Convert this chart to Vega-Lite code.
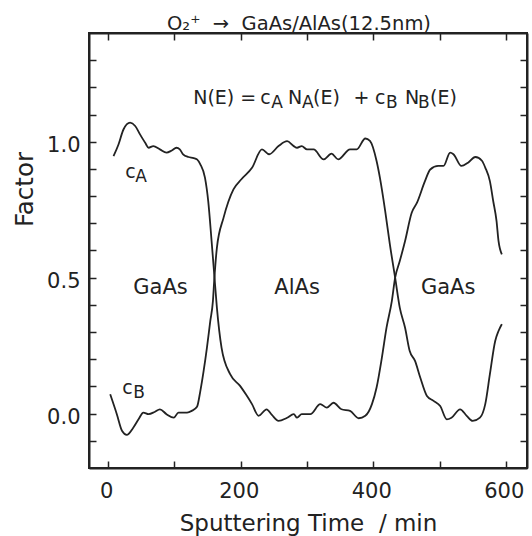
{
  "$schema": "https://vega.github.io/schema/vega-lite/v6.json",
  "width": 438,
  "height": 435,
  "autosize": "none",
  "padding": {"left": 89, "top": 33, "right": 5, "bottom": 68},
  "background": "white",
  "title": {"text": "O₂⁺\u00a0\u00a0→\u00a0\u00a0GaAs/AlAs(12.5nm)", "fontSize": 19.5, "font": "DejaVu Sans", "fontWeight": "normal", "color": "#222", "offset": 1, "dx": -9, "dy": 3},
  "config": {
    "view": {"stroke": "#222", "strokeWidth": 2},
    "axis": {"domainColor": "#222", "domainWidth": 2, "tickColor": "#222", "tickWidth": 1.5, "labelColor": "#222", "titleColor": "#222", "labelFont": "DejaVu Sans", "titleFont": "DejaVu Sans", "labelFontSize": 21, "titleFontSize": 23, "titleFontWeight": "normal", "grid": false},
    "text": {"font": "DejaVu Sans", "color": "#222"}
  },
  "datasets": {
    "curves": [
      {"series": "cA", "t": 8, "f": 0.947}, {"series": "cA", "t": 15.5, "f": 0.99}, {"series": "cA", "t": 23, "f": 1.045}, {"series": "cA", "t": 33, "f": 1.07}, {"series": "cA", "t": 40.7, "f": 1.058}, {"series": "cA", "t": 48, "f": 1.027}, {"series": "cA", "t": 55.8, "f": 0.996}, {"series": "cA", "t": 61, "f": 0.978}, {"series": "cA", "t": 68, "f": 0.984}, {"series": "cA", "t": 78, "f": 0.972}, {"series": "cA", "t": 88, "f": 0.96}, {"series": "cA", "t": 96, "f": 0.968}, {"series": "cA", "t": 103, "f": 0.978}, {"series": "cA", "t": 108, "f": 0.972}, {"series": "cA", "t": 113, "f": 0.954}, {"series": "cA", "t": 121, "f": 0.944}, {"series": "cA", "t": 129, "f": 0.94}, {"series": "cA", "t": 134, "f": 0.935}, {"series": "cA", "t": 139, "f": 0.917}, {"series": "cA", "t": 146, "f": 0.868}, {"series": "cA", "t": 151, "f": 0.78}, {"series": "cA", "t": 156, "f": 0.635}, {"series": "cA", "t": 160, "f": 0.513}, {"series": "cA", "t": 164, "f": 0.39}, {"series": "cA", "t": 171, "f": 0.243}, {"series": "cA", "t": 184, "f": 0.145}, {"series": "cA", "t": 199, "f": 0.102}, {"series": "cA", "t": 208, "f": 0.07}, {"series": "cA", "t": 217, "f": 0.035}, {"series": "cA", "t": 227, "f": -0.008}, {"series": "cA", "t": 239, "f": 0.016}, {"series": "cA", "t": 247, "f": -0.005}, {"series": "cA", "t": 257, "f": -0.027}, {"series": "cA", "t": 270, "f": -0.015}, {"series": "cA", "t": 280, "f": -0.002}, {"series": "cA", "t": 285, "f": -0.015}, {"series": "cA", "t": 292, "f": -0.002}, {"series": "cA", "t": 305, "f": -0.002}, {"series": "cA", "t": 320, "f": 0.035}, {"series": "cA", "t": 330, "f": 0.022}, {"series": "cA", "t": 340, "f": 0.04}, {"series": "cA", "t": 352, "f": 0.016}, {"series": "cA", "t": 365, "f": 0.01}, {"series": "cA", "t": 378, "f": -0.017}, {"series": "cA", "t": 388, "f": -0.008}, {"series": "cA", "t": 398, "f": 0.035}, {"series": "cA", "t": 405, "f": 0.096}, {"series": "cA", "t": 413, "f": 0.206}, {"series": "cA", "t": 420, "f": 0.316}, {"series": "cA", "t": 428, "f": 0.414}, {"series": "cA", "t": 433, "f": 0.5}, {"series": "cA", "t": 440, "f": 0.561}, {"series": "cA", "t": 448, "f": 0.635}, {"series": "cA", "t": 458, "f": 0.739}, {"series": "cA", "t": 466, "f": 0.776}, {"series": "cA", "t": 478, "f": 0.855}, {"series": "cA", "t": 486, "f": 0.898}, {"series": "cA", "t": 498, "f": 0.911}, {"series": "cA", "t": 506, "f": 0.911}, {"series": "cA", "t": 516, "f": 0.96}, {"series": "cA", "t": 521, "f": 0.954}, {"series": "cA", "t": 533, "f": 0.911}, {"series": "cA", "t": 543, "f": 0.923}, {"series": "cA", "t": 554, "f": 0.944}, {"series": "cA", "t": 564, "f": 0.93}, {"series": "cA", "t": 569, "f": 0.905}, {"series": "cA", "t": 576, "f": 0.855}, {"series": "cA", "t": 581, "f": 0.782}, {"series": "cA", "t": 586, "f": 0.709}, {"series": "cA", "t": 589, "f": 0.635}, {"series": "cA", "t": 594, "f": 0.586},
      {"series": "cB", "t": 3, "f": 0.071}, {"series": "cB", "t": 13, "f": -0.002}, {"series": "cB", "t": 21, "f": -0.064}, {"series": "cB", "t": 28, "f": -0.078}, {"series": "cB", "t": 38, "f": -0.051}, {"series": "cB", "t": 46, "f": -0.02}, {"series": "cB", "t": 53, "f": 0.004}, {"series": "cB", "t": 61, "f": -0.002}, {"series": "cB", "t": 70, "f": 0.006}, {"series": "cB", "t": 78, "f": 0.016}, {"series": "cB", "t": 88, "f": -0.002}, {"series": "cB", "t": 99, "f": -0.015}, {"series": "cB", "t": 106, "f": 0.004}, {"series": "cB", "t": 119, "f": 0.004}, {"series": "cB", "t": 126, "f": 0.01}, {"series": "cB", "t": 134, "f": 0.025}, {"series": "cB", "t": 139, "f": 0.083}, {"series": "cB", "t": 144, "f": 0.157}, {"series": "cB", "t": 149, "f": 0.243}, {"series": "cB", "t": 154, "f": 0.34}, {"series": "cB", "t": 158, "f": 0.414}, {"series": "cB", "t": 160, "f": 0.49}, {"series": "cB", "t": 164, "f": 0.61}, {"series": "cB", "t": 174, "f": 0.72}, {"series": "cB", "t": 189, "f": 0.825}, {"series": "cB", "t": 201, "f": 0.862}, {"series": "cB", "t": 217, "f": 0.904}, {"series": "cB", "t": 232, "f": 0.972}, {"series": "cB", "t": 243, "f": 0.954}, {"series": "cB", "t": 257, "f": 0.984}, {"series": "cB", "t": 270, "f": 1.002}, {"series": "cB", "t": 280, "f": 0.984}, {"series": "cB", "t": 285, "f": 0.978}, {"series": "cB", "t": 292, "f": 0.984}, {"series": "cB", "t": 300, "f": 0.972}, {"series": "cB", "t": 310, "f": 0.972}, {"series": "cB", "t": 325, "f": 0.935}, {"series": "cB", "t": 337, "f": 0.956}, {"series": "cB", "t": 347, "f": 0.935}, {"series": "cB", "t": 365, "f": 0.972}, {"series": "cB", "t": 375, "f": 0.972}, {"series": "cB", "t": 388, "f": 1.012}, {"series": "cB", "t": 395, "f": 1.003}, {"series": "cB", "t": 405, "f": 0.929}, {"series": "cB", "t": 410, "f": 0.868}, {"series": "cB", "t": 418, "f": 0.745}, {"series": "cB", "t": 425, "f": 0.623}, {"series": "cB", "t": 433, "f": 0.5}, {"series": "cB", "t": 440, "f": 0.39}, {"series": "cB", "t": 448, "f": 0.316}, {"series": "cB", "t": 455, "f": 0.23}, {"series": "cB", "t": 463, "f": 0.194}, {"series": "cB", "t": 471, "f": 0.132}, {"series": "cB", "t": 481, "f": 0.065}, {"series": "cB", "t": 491, "f": 0.047}, {"series": "cB", "t": 501, "f": 0.028}, {"series": "cB", "t": 511, "f": -0.021}, {"series": "cB", "t": 518, "f": -0.015}, {"series": "cB", "t": 531, "f": 0.016}, {"series": "cB", "t": 541, "f": -0.008}, {"series": "cB", "t": 550, "f": -0.027}, {"series": "cB", "t": 561, "f": -0.015}, {"series": "cB", "t": 569, "f": 0.035}, {"series": "cB", "t": 576, "f": 0.145}, {"series": "cB", "t": 584, "f": 0.267}, {"series": "cB", "t": 589, "f": 0.304}, {"series": "cB", "t": 594, "f": 0.329}
    ],
    "notes": [
      {"t": 79, "f": 0.44, "text": "GaAs", "role": "region"},
      {"t": 285, "f": 0.44, "text": "AlAs", "role": "region"},
      {"t": 513, "f": 0.44, "text": "GaAs", "role": "region"},
      {"t": 25.6, "f": 0.867, "text": "c", "role": "main"},
      {"t": 40.7, "f": 0.867, "text": "A", "role": "sub"},
      {"t": 21, "f": 0.072, "text": "c", "role": "main"},
      {"t": 37.7, "f": 0.072, "text": "B", "role": "sub"},
      {"t": 128.2, "f": 1.1386, "text": "N(E) =", "role": "main"},
      {"t": 229.3, "f": 1.1386, "text": "c", "role": "main"},
      {"t": 245.9, "f": 1.1386, "text": "A", "role": "sub"},
      {"t": 271.5, "f": 1.1386, "text": "N", "role": "main"},
      {"t": 292.6, "f": 1.1386, "text": "A", "role": "sub"},
      {"t": 309.2, "f": 1.1386, "text": "(E)", "role": "main"},
      {"t": 370, "f": 1.1386, "text": "+", "role": "main"},
      {"t": 402.7, "f": 1.1386, "text": "c", "role": "main"},
      {"t": 419.3, "f": 1.1386, "text": "B", "role": "sub"},
      {"t": 448, "f": 1.1386, "text": "N", "role": "main"},
      {"t": 467.6, "f": 1.1386, "text": "B", "role": "sub"},
      {"t": 485.7, "f": 1.1386, "text": "(E)", "role": "main"}
    ]
  },
  "layer": [
    {
      "data": {"name": "curves"},
      "mark": {"type": "line", "color": "#222", "strokeWidth": 1.8, "interpolate": "monotone"},
      "encoding": {
        "x": {"field": "t", "type": "quantitative", "scale": {"domain": [-29, 632], "nice": false, "zero": false},
          "axis": {"orient": "bottom", "values": [0, 100, 200, 300, 400, 500, 600], "labelExpr": "datum.value % 200 === 0 ? datum.label : ''", "tickSize": -7, "labelPadding": 19, "labelOffset": -2, "title": "Sputtering Time\u00a0\u00a0/ min", "titleFontSize": 23, "titleBaseline": "alphabetic", "titleY": 62}},
        "y": {"field": "f", "type": "quantitative", "scale": {"domain": [-0.2, 1.4], "nice": false, "zero": false},
          "axis": {"orient": "left", "values": [-0.1, 0, 0.1, 0.2, 0.3, 0.4, 0.5, 0.6, 0.7, 0.8, 0.9, 1, 1.1, 1.2, 1.3], "format": ".1f", "labelExpr": "indexof(['0.0','0.5','1.0'], datum.label) >= 0 ? datum.label : ''", "tickSize": -7, "labelPadding": 16, "labelOffset": 4, "title": "Factor", "titleFontSize": 24.5, "titleBaseline": "alphabetic", "titleX": -57, "titleY": 156}},
        "detail": {"field": "series"}
      }
    },
    {
      "data": {"name": "notes"},
      "transform": [{"filter": "datum.role === 'region'"}],
      "mark": {"type": "text", "fontSize": 21, "align": "center", "baseline": "alphabetic"},
      "encoding": {
        "x": {"field": "t", "type": "quantitative", "scale": {"domain": [-29, 632], "nice": false, "zero": false},
          "axis": {"orient": "top", "values": [0, 100, 200, 300, 400, 500, 600], "labels": false, "tickSize": -7, "title": null}},
        "y": {"field": "f", "type": "quantitative", "scale": {"domain": [-0.2, 1.4], "nice": false, "zero": false},
          "axis": {"orient": "right", "values": [-0.1, 0, 0.1, 0.2, 0.3, 0.4, 0.5, 0.6, 0.7, 0.8, 0.9, 1, 1.1, 1.2, 1.3], "labels": false, "tickSize": -7, "title": null}},
        "text": {"field": "text"}
      }
    },
    {
      "data": {"name": "notes"},
      "transform": [{"filter": "datum.role === 'main'"}],
      "mark": {"type": "text", "fontSize": 19, "align": "left", "baseline": "alphabetic"},
      "encoding": {
        "x": {"field": "t", "type": "quantitative", "scale": {"domain": [-29, 632], "nice": false, "zero": false}, "axis": null},
        "y": {"field": "f", "type": "quantitative", "scale": {"domain": [-0.2, 1.4], "nice": false, "zero": false}, "axis": null},
        "text": {"field": "text"}
      }
    },
    {
      "data": {"name": "notes"},
      "transform": [{"filter": "datum.role === 'sub'"}],
      "mark": {"type": "text", "fontSize": 17, "align": "left", "baseline": "alphabetic", "dy": 4},
      "encoding": {
        "x": {"field": "t", "type": "quantitative", "scale": {"domain": [-29, 632], "nice": false, "zero": false}, "axis": null},
        "y": {"field": "f", "type": "quantitative", "scale": {"domain": [-0.2, 1.4], "nice": false, "zero": false}, "axis": null},
        "text": {"field": "text"}
      }
    }
  ],
  "resolve": {"axis": {"x": "independent", "y": "independent"}}
}
